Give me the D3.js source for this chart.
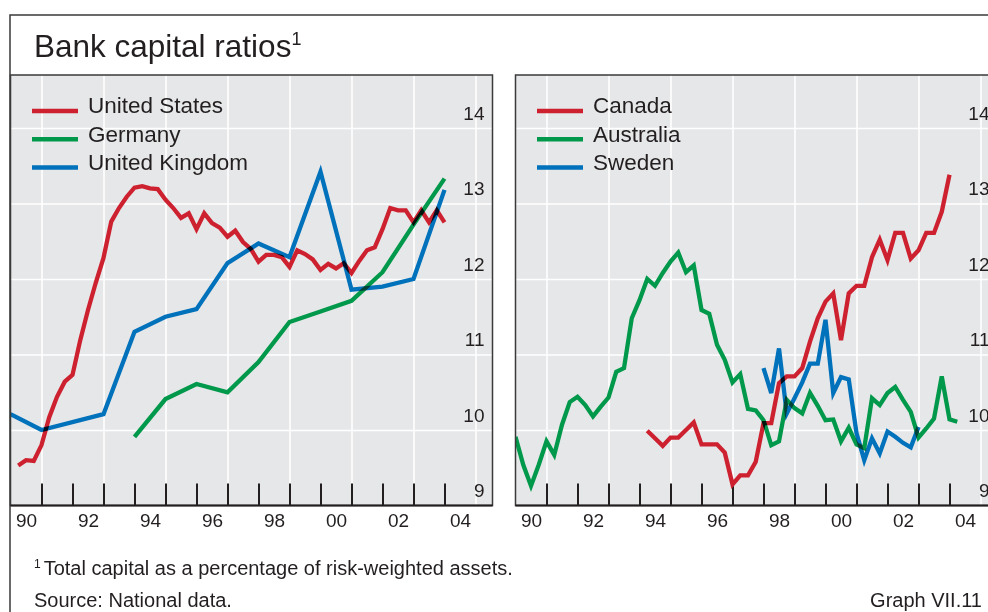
<!DOCTYPE html>
<html>
<head>
<meta charset="utf-8">
<script src="https://cdn.jsdelivr.net/npm/d3@7"></script>
<style>
  body { margin: 0; background: #fff; }
  svg { display: block; font-family: "Liberation Sans", Arial, sans-serif; }
  .lines { isolation: isolate; }
  .lines path { mix-blend-mode: multiply; }
</style>
</head>
<body>
<svg id="chart" width="988" height="612"></svg>
<script>
// Left panel series
const usStart = 1990.25; // quarterly
const usValues = [9.53, 9.60, 9.59, 9.80, 10.17, 10.44, 10.64, 10.73, 11.19, 11.59,
  11.95, 12.28, 12.76, 12.94, 13.09, 13.21, 13.23, 13.20, 13.19, 13.05,
  12.94, 12.81, 12.87, 12.66, 12.87, 12.74, 12.68, 12.56, 12.64, 12.49,
  12.40, 12.23, 12.32, 12.32, 12.29, 12.16, 12.38, 12.33, 12.26, 12.12,
  12.20, 12.14, 12.21, 12.08, 12.24, 12.38, 12.42, 12.66, 12.94, 12.91,
  12.91, 12.75, 12.91, 12.75, 12.91, 12.75];

const germanyYears = [1994, 1995, 1996, 1997, 1998, 1999, 2000, 2001, 2002, 2003, 2004];
const germanyValues = [9.91, 10.41, 10.61, 10.50, 10.90, 11.43, 11.57, 11.71, 12.09, 12.72, 13.33];

const ukYears = [1990, 1991, 1993, 1994, 1995, 1996, 1997, 1998, 1999, 2000, 2001, 2002, 2003, 2004];
const ukValues = [10.21, 10.00, 10.21, 11.30, 11.50, 11.60, 12.21, 12.47, 12.29, 13.42, 11.86, 11.90, 12.00, 13.18];

// Right panel series (quarterly)
const canadaStart = 1994.25;
const canadaValues = [9.99, 9.89, 9.79, 9.90, 9.90, 10.00, 10.10, 9.81, 9.81, 9.81,
  9.70, 9.28, 9.40, 9.40, 9.58, 10.09, 10.09, 10.62, 10.71, 10.71,
  10.82, 11.17, 11.48, 11.70, 11.81, 11.19, 11.81, 11.91, 11.91, 12.29,
  12.52, 12.25, 12.61, 12.61, 12.27, 12.38, 12.61, 12.61, 12.89, 13.38];

const australiaStart = 1990.0;
const australiaValues = [9.91, 9.54, 9.26, 9.54, 9.85, 9.67, 10.07, 10.37, 10.44, 10.33,
  10.18, 10.31, 10.43, 10.77, 10.82, 11.48, 11.72, 12.00, 11.91, 12.08,
  12.23, 12.35, 12.09, 12.18, 11.59, 11.54, 11.13, 10.93, 10.63, 10.74,
  10.28, 10.26, 10.13, 9.80, 9.85, 10.40, 10.29, 10.22, 10.49, 10.32,
  10.13, 10.14, 9.85, 10.03, 9.81, 9.76, 10.42, 10.33, 10.49, 10.57,
  10.40, 10.24, 9.90, 10.02, 10.15, 10.71, 10.14, 10.11];

const swedenStart = 1998.0;
const swedenValues = [10.82, 10.49, 11.08, 10.22, 10.42, 10.63, 10.88, 10.88, 11.46, 10.49,
  10.70, 10.67, 9.96, 9.60, 9.89, 9.69, 9.98, 9.91, 9.83, 9.77, 10.04];

const yTicks = [9, 10, 11, 12, 13, 14];
const xLabelYears = [1990, 1992, 1994, 1996, 1998, 2000, 2002, 2004];

const colors = { red: '#cd2130', green: '#00984a', blue: '#0071bb' };

const quarterly = (start, values) => values.map((v, i) => ({ x: start + i * 0.25, y: v }));
const annual = (years, values) => values.map((v, i) => ({ x: years[i], y: v }));

const panels = [
  {
    left: 10.5,
    series: [
      { name: 'United States', color: colors.red, data: quarterly(usStart, usValues) },
      { name: 'Germany', color: colors.green, data: annual(germanyYears, germanyValues) },
      { name: 'United Kingdom', color: colors.blue, data: annual(ukYears, ukValues) }
    ]
  },
  {
    left: 515.5,
    series: [
      { name: 'Canada', color: colors.red, data: quarterly(canadaStart, canadaValues) },
      { name: 'Australia', color: colors.green, data: quarterly(australiaStart, australiaValues) },
      { name: 'Sweden', color: colors.blue, data: quarterly(swedenStart, swedenValues) }
    ]
  }
];

const panelW = 482;
const plotTop = 75;
const plotBottom = 505.5;
const ink = '#231f20';

const svg = d3.select('#chart');

// outer frame
svg.append('path')
  .attr('d', 'M10,612V15H1000')
  .attr('fill', 'none')
  .attr('stroke', '#3a3a3a')
  .attr('stroke-width', 1.5);

const title = svg.append('text')
  .attr('x', 34)
  .attr('y', 57)
  .attr('font-size', 31.5)
  .attr('fill', ink)
  .text('Bank capital ratios');
title.append('tspan')
  .attr('font-size', 18)
  .attr('dy', -12)
  .text('1');

const yScale = d3.scaleLinear().domain([9, 14]).range([plotBottom, 128]);

panels.forEach((p, pi) => {
  const xScale = d3.scaleLinear()
    .domain([1990, 1990 + panelW / 31])
    .range([p.left, p.left + panelW]);

  const g = svg.append('g');

  g.append('rect')
    .attr('x', p.left)
    .attr('y', plotTop)
    .attr('width', panelW)
    .attr('height', plotBottom - plotTop)
    .attr('fill', '#e6e7e8');

  // vertical gridlines at odd years
  g.append('g')
    .attr('transform', `translate(0,${plotBottom})`)
    .call(d3.axisBottom(xScale)
      .tickValues(d3.range(1991, 2006, 2))
      .tickSize(-(plotBottom - plotTop))
      .tickFormat(''))
    .call(s => s.select('.domain').remove())
    .call(s => s.selectAll('line').attr('stroke', '#fff').attr('stroke-width', 1.6));

  // horizontal gridlines
  g.append('g')
    .attr('transform', `translate(${p.left},0)`)
    .call(d3.axisLeft(yScale)
      .tickValues(yTicks.slice(1))
      .tickSize(-panelW)
      .tickFormat(''))
    .call(s => s.select('.domain').remove())
    .call(s => s.selectAll('line').attr('stroke', '#fff').attr('stroke-width', 1.6));

  // year ticks pointing up
  g.append('g')
    .attr('transform', `translate(0,${plotBottom})`)
    .call(d3.axisBottom(xScale)
      .tickValues(d3.range(1991, 2005))
      .tickSize(-22)
      .tickFormat(''))
    .call(s => s.select('.domain').remove())
    .call(s => s.selectAll('line').attr('stroke', ink).attr('stroke-width', 2));

  // year labels centred in the year
  g.append('g')
    .attr('transform', `translate(0,${plotBottom})`)
    .call(d3.axisBottom(xScale)
      .tickValues(xLabelYears.map(y => y + 0.5))
      .tickSize(0)
      .tickPadding(8)
      .tickFormat(d => String(Math.floor(d)).slice(2)))
    .call(s => s.select('.domain').remove())
    .call(s => s.selectAll('text')
      .attr('font-size', 19)
      .attr('font-family', '"Liberation Sans", Arial, sans-serif')
      .attr('fill', ink));

  // y labels sitting above their gridline
  g.append('g')
    .attr('transform', `translate(${p.left + panelW},0)`)
    .call(d3.axisLeft(yScale)
      .tickValues(yTicks)
      .tickSize(0)
      .tickPadding(8)
      .tickFormat(d3.format('d')))
    .call(s => s.select('.domain').remove())
    .call(s => s.selectAll('text')
      .attr('dy', -9)
      .attr('font-size', 19)
      .attr('font-family', '"Liberation Sans", Arial, sans-serif')
      .attr('fill', ink));

  // lines
  const clipId = 'clip' + pi;
  svg.append('clipPath').attr('id', clipId)
    .append('rect')
    .attr('x', p.left).attr('y', plotTop)
    .attr('width', panelW).attr('height', plotBottom - plotTop);

  const line = d3.line()
    .x(d => xScale(d.x))
    .y(d => yScale(d.y));

  g.append('g')
    .attr('class', 'lines')
    .attr('clip-path', `url(#${clipId})`)
    .selectAll('path')
    .data(p.series)
    .join('path')
    .attr('d', d => line(d.data))
    .attr('fill', 'none')
    .attr('stroke', d => d.color)
    .attr('stroke-width', 4.3)
    .attr('stroke-linejoin', 'miter');

  // legend
  const leg = g.append('g')
    .selectAll('g')
    .data(p.series)
    .join('g');

  leg.append('line')
    .attr('x1', p.left + 21.5)
    .attr('x2', p.left + 67.5)
    .attr('y1', (d, i) => 111 + i * 28.2)
    .attr('y2', (d, i) => 111 + i * 28.2)
    .attr('stroke', d => d.color)
    .attr('stroke-width', 4.5);

  leg.append('text')
    .attr('x', p.left + 77.5)
    .attr('y', (d, i) => 113 + i * 28.6)
    .attr('font-size', 22.5)
    .attr('fill', ink)
    .text(d => d.name);

  // panel border and axis line
  g.append('rect')
    .attr('x', p.left)
    .attr('y', plotTop)
    .attr('width', panelW)
    .attr('height', plotBottom - plotTop)
    .attr('fill', 'none')
    .attr('stroke', '#3a3a3a')
    .attr('stroke-width', 1.5);

  g.append('line')
    .attr('x1', p.left).attr('x2', p.left + panelW)
    .attr('y1', plotBottom).attr('y2', plotBottom)
    .attr('stroke', ink)
    .attr('stroke-width', 2);
});

// footnotes
const note = svg.append('text')
  .attr('x', 34)
  .attr('y', 575)
  .attr('font-size', 20)
  .attr('fill', ink);
note.append('tspan')
  .attr('font-size', 12)
  .attr('dy', -7)
  .text('1');
note.append('tspan')
  .attr('dy', 7)
  .attr('dx', 3)
  .text('Total capital as a percentage of risk-weighted assets.');

svg.append('text')
  .attr('x', 34)
  .attr('y', 607)
  .attr('font-size', 20)
  .attr('fill', ink)
  .text('Source: National data.');

svg.append('text')
  .attr('x', 982)
  .attr('y', 607)
  .attr('font-size', 20)
  .attr('text-anchor', 'end')
  .attr('fill', ink)
  .text('Graph VII.11');
</script>
</body>
</html>
